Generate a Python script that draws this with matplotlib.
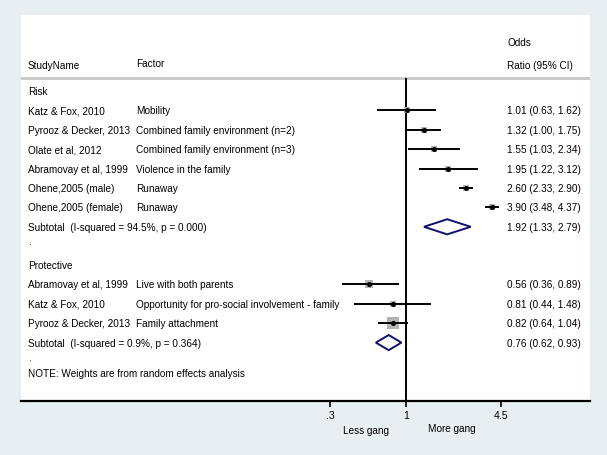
import matplotlib
matplotlib.use("Agg")
import matplotlib.pyplot as plt
import numpy as np

# ---------------------------------------------------------------------------
# Data
# ---------------------------------------------------------------------------
risk_studies = ["Katz & Fox, 2010", "Pyrooz & Decker, 2013", "Olate et al, 2012",
                "Abramovay et al, 1999", "Ohene,2005 (male)", "Ohene,2005 (female)"]
risk_factors = ["Mobility", "Combined family environment (n=2)",
                "Combined family environment (n=3)", "Violence in the family",
                "Runaway", "Runaway"]
risk_or = [1.01, 1.32, 1.55, 1.95, 2.60, 3.90]
risk_lo = [0.63, 1.00, 1.03, 1.22, 2.33, 3.48]
risk_hi = [1.62, 1.75, 2.34, 3.12, 2.90, 4.37]
risk_wt = [14.5, 17.0, 16.0, 15.5, 19.0, 18.5]
risk_sub = (1.92, 1.33, 2.79)
risk_sub_label = "Subtotal  (I-squared = 94.5%, p = 0.000)"

prot_studies = ["Abramovay et al, 1999", "Katz & Fox, 2010", "Pyrooz & Decker, 2013"]
prot_factors = ["Live with both parents",
                "Opportunity for pro-social involvement - family",
                "Family attachment"]
prot_or = [0.56, 0.81, 0.82]
prot_lo = [0.36, 0.44, 0.64]
prot_hi = [0.89, 1.48, 1.04]
prot_wt = [22.0, 14.0, 64.0]
prot_sub = (0.76, 0.62, 0.93)
prot_sub_label = "Subtotal  (I-squared = 0.9%, p = 0.364)"

xticks = [0.3, 1, 4.5]
xtick_labels = [".3", "1", "4.5"]

# ---------------------------------------------------------------------------
# Style
# ---------------------------------------------------------------------------
plt.rcParams["font.family"] = ["Liberation Sans", "DejaVu Sans"]
FS = 7.2
BG = "#e8eff2"
NAVY = "#10106e"
BOX = "#b4b4b4"

W, H = 607, 456
fig = plt.figure(figsize=(W / 100, H / 100), dpi=100, facecolor=BG)

# panel in pixels
px_l, px_r, px_t, px_b = 21, 590, 16, 402
ax = fig.add_axes([px_l / W, 1 - px_b / H, (px_r - px_l) / W, (px_b - px_t) / H])
ax.set_facecolor("white")

# row geometry: row 0 ("Risk") at pixel 92, 19.4 px per row
y0, dy = 92, 19.4
def prow(py):
    return (py - y0) / dy

ax.set_ylim(prow(px_b), prow(px_t))
ax.set_xscale("log")
k = 63.1  # pixels per ln unit
ax.set_xlim(np.exp((px_l - 406) / k), np.exp((px_r - 406) / k))

tr = ax.get_yaxis_transform()  # x in axes fraction, y in data
x_study = (28 - px_l) / (px_r - px_l)
x_factor = (136 - px_l) / (px_r - px_l)
x_val = (507 - px_l) / (px_r - px_l)

# header
ax.text(x_val, prow(43), "Odds", transform=tr, fontsize=FS, va="center")
ax.text(x_val, prow(66), "Ratio (95% CI)", transform=tr, fontsize=FS, va="center")
ax.text(x_study, prow(66), "StudyName", transform=tr, fontsize=FS, va="center")
ax.text(x_factor, prow(64), "Factor", transform=tr, fontsize=FS, va="center")
hdr = prow(78.5)
ax.axhline(hdr, color="#c8c8c8", lw=2)

# reference line at OR = 1
ax.vlines(1, hdr, prow(px_b), color="black", lw=1.4, zorder=2)

box_scale = 1.5  # px per sqrt(weight)


def draw_group(r0, title, studies, factors, ors, los, his, wts, sub, sub_label):
    ax.text(x_study, r0, title, transform=tr, fontsize=FS, va="center")
    rows = np.arange(1, len(studies) + 1) + r0
    for r, s, f, o, lo, hi, w in zip(rows, studies, factors, ors, los, his, wts):
        ax.text(x_study, r, s, transform=tr, fontsize=FS, va="center")
        ax.text(x_factor, r, f, transform=tr, fontsize=FS, va="center")
        ax.text(x_val, r, f"{o:.2f} ({lo:.2f}, {hi:.2f})", transform=tr,
                fontsize=FS, va="center")
        side = box_scale * np.sqrt(w) * 0.72
        ax.scatter([o], [r], marker="s", s=side ** 2, color=BOX, lw=0, zorder=3)
        ax.hlines(r, lo, hi, color="black", lw=1.4, zorder=4)
        ax.plot([o], [r], marker="o", ms=2.6, color="black", zorder=5)
    rs = rows[-1] + 1
    est, lo, hi = sub
    ax.text(x_study, rs, sub_label, transform=tr, fontsize=FS, va="center")
    ax.text(x_val, rs, f"{est:.2f} ({lo:.2f}, {hi:.2f})", transform=tr,
            fontsize=FS, va="center")
    h = 0.39
    ax.fill([lo, est, hi, est, lo], [rs, rs - h, rs, rs + h, rs],
            facecolor="white", edgecolor=NAVY, lw=1.4, zorder=4)
    ax.text(x_study, rs + 0.75, ".", transform=tr, fontsize=FS, va="center")
    return rs


draw_group(0, "Risk", risk_studies, risk_factors, risk_or, risk_lo, risk_hi,
           risk_wt, risk_sub, risk_sub_label)
draw_group(prow(266), "Protective", prot_studies, prot_factors, prot_or,
           prot_lo, prot_hi, prot_wt, prot_sub, prot_sub_label)
ax.text(x_study, prow(374), "NOTE: Weights are from random effects analysis",
        transform=tr, fontsize=FS, va="center")

# axes
for sp in ["top", "left", "right"]:
    ax.spines[sp].set_visible(False)
ax.spines["bottom"].set_linewidth(1.6)
ax.set_yticks([])
ax.set_xticks(xticks)
ax.set_xticklabels(xtick_labels, fontsize=7.6)
ax.xaxis.set_minor_locator(matplotlib.ticker.NullLocator())
ax.tick_params(axis="x", direction="out", length=4.3, width=1.2, pad=2.5)

ax.text((366 - px_l) / (px_r - px_l), (px_b - 431) / (px_b - px_t), "Less gang",
        transform=ax.transAxes, fontsize=FS, ha="center", va="center")
ax.text((452 - px_l) / (px_r - px_l), (px_b - 429) / (px_b - px_t), "More gang",
        transform=ax.transAxes, fontsize=FS, ha="center", va="center")

fig.savefig("out.png", dpi=100, facecolor=BG)
